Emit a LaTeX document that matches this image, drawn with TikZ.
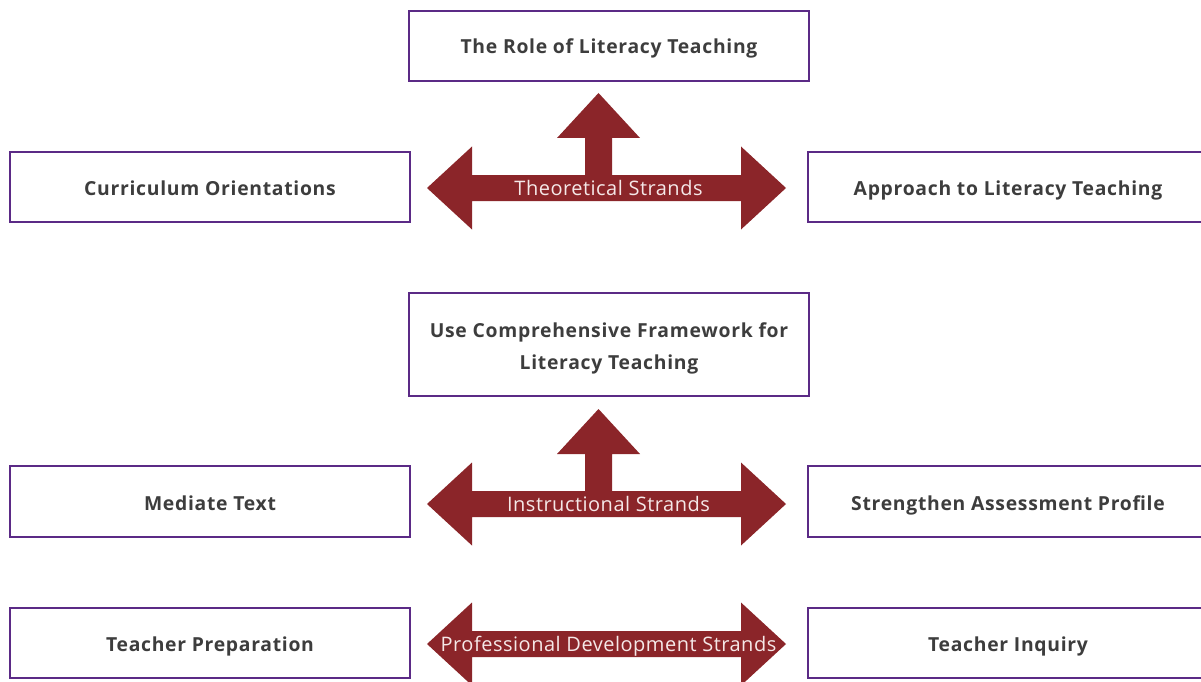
\documentclass[tikz,border=0pt]{standalone}
\usepackage{fontspec}
\setmainfont{Open Sans}
\newfontfamily\boxfont[LetterSpace=3.7]{Open Sans}
\newfontfamily\arrowfont[LetterSpace=2.5]{Open Sans}
\definecolor{boxpurple}{HTML}{5B2A86}
\definecolor{arrowred}{HTML}{8B2529}
\definecolor{txtgray}{HTML}{3D3D3D}
\definecolor{arrowtxt}{HTML}{F5E8E8}
\begin{document}
\begin{tikzpicture}[x=0.75pt,y=-0.75pt,
  strandbox/.style={draw=boxpurple,line width=1.8pt,fill=white},
  boxtext/.style={text=txtgray,font=\boxfont\fontsize{14.5}{24}\selectfont\bfseries,align=center,anchor=base},
  arrowshape/.style={fill=arrowred,draw=none},
  arrowlabel/.style={text=arrowtxt,font=\arrowfont\fontsize{15}{16}\selectfont,inner sep=0pt,anchor=base}]
\useasboundingbox (0,0) rectangle (1201,681);
\clip (0,0) rectangle (1201,681);
% boxes
\draw[strandbox] (409,11) rectangle (809,81);
\node[boxtext] (role) at (609,54) {The Role of Literacy Teaching};
\draw[strandbox] (10,152) rectangle (410,222);
\node[boxtext] (curr) at (210,195) {Curriculum Orientations};
\draw[strandbox] (808,152) rectangle (1210,222);
\node[boxtext] (appr) at (1008,195) {Approach to Literacy Teaching};
\draw[strandbox] (409,293) rectangle (809,396);
\node[boxtext] (use) at (609,369) {Use Comprehensive Framework for\\Literacy Teaching};
\draw[strandbox] (10,466) rectangle (410,537);
\node[boxtext] (med) at (210,510) {Mediate Text};
\draw[strandbox] (808,466) rectangle (1210,537);
\node[boxtext] (str) at (1008,510) {Strengthen Assessment Profile};
\draw[strandbox] (10,608) rectangle (410,678);
\node[boxtext] (prep) at (210,651) {Teacher Preparation};
\draw[strandbox] (808,608) rectangle (1210,678);
\node[boxtext] (inq) at (1008,651) {Teacher Inquiry};
% theoretical arrow
\begin{scope}[shift={(0,188)}]
\fill[arrowshape] (427,0) -- (472,-41.5) -- (472,-13) -- (585,-13) -- (585,-50) -- (557,-50) -- (598.5,-95) -- (640,-50) -- (612,-50) -- (612,-13) -- (741,-13) -- (741,-41.5) -- (786,0) -- (741,41.5) -- (741,13) -- (472,13) -- (472,41.5) -- cycle;
\node[arrowlabel] (theo) at (608.5,7) {Theoretical Strands};
\end{scope}
% instructional arrow
\begin{scope}[shift={(0,504)}]
\fill[arrowshape] (427,0) -- (472,-41.5) -- (472,-13) -- (585,-13) -- (585,-50) -- (557,-50) -- (598.5,-95) -- (640,-50) -- (612,-50) -- (612,-13) -- (741,-13) -- (741,-41.5) -- (786,0) -- (741,41.5) -- (741,13) -- (472,13) -- (472,41.5) -- cycle;
\node[arrowlabel] (instr) at (608.5,7) {Instructional Strands};
\end{scope}
% professional development arrow
\begin{scope}[shift={(0,644)}]
\fill[arrowshape] (427,0) -- (472,-41.5) -- (472,-13) -- (741,-13) -- (741,-41.5) -- (786,0) -- (741,41.5) -- (741,13) -- (472,13) -- (472,41.5) -- cycle;
\node[arrowlabel] (prof) at (608.5,7) {Professional Development Strands};
\end{scope}
\end{tikzpicture}
\end{document}
